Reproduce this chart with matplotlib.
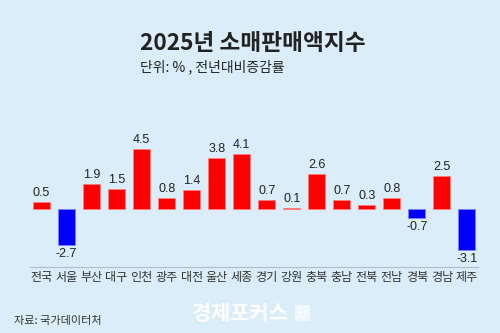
import matplotlib.pyplot as plt
import numpy as np

plt.rcParams['font.family'] = ['Noto Sans CJK KR', 'DejaVu Sans']

# 2025 retail sales index, YoY change (%)
regions = ["전국", "서울", "부산", "대구", "인천", "광주", "대전", "울산", "세종",
           "경기", "강원", "충북", "충남", "전북", "전남", "경북", "경남", "제주"]
values = [0.5, -2.7, 1.9, 1.5, 4.5, 0.8, 1.4, 3.8, 4.1,
          0.7, 0.1, 2.6, 0.7, 0.3, 0.8, -0.7, 2.5, -3.1]

bg = "#daedf8"
fig = plt.figure(figsize=(5, 3.33), dpi=100, facecolor=bg)
ax = fig.add_axes([0.06, 0.198, 0.896, 0.472])
ax.set_facecolor(bg)

x = np.arange(len(regions))
colors = ["#ff0000" if v >= 0 else "#0000ff" for v in values]
edges = ["#ff8080" if v >= 0 else "#8080ff" for v in values]
ax.bar(x, values, width=0.68, color=colors, edgecolor=edges, linewidth=0.6)

# value labels above / below each bar
for xi, v in zip(x, values):
    if v >= 0:
        ax.text(xi, v + 0.22, f"{v:.1f}", ha="center", va="bottom", fontsize=9,
                color="#222222", family=["Liberation Sans", "DejaVu Sans"])
    else:
        ax.text(xi, v - 0.22, f"{v:.1f}", ha="center", va="top", fontsize=9,
                color="#222222", family=["Liberation Sans", "DejaVu Sans"])

ax.set_xlim(-0.46, len(regions) - 0.56)
ax.set_ylim(-4.36, 7.44)
ax.set_xticks(x)
ax.set_xticklabels(regions, fontsize=8.7, color="#333333")
ax.tick_params(axis="x", length=0, pad=3)
ax.set_yticks([])
for s in ["top", "left", "right"]:
    ax.spines[s].set_visible(False)
ax.spines["bottom"].set_color("#b4bcc4")
ax.spines["bottom"].set_linewidth(0.8)

fig.text(0.28, 0.87, "2025년 소매판매액지수", fontsize=16.3, fontweight="bold",
         color="#222222", va="center", ha="left")
fig.text(0.28, 0.80, "단위: % , 전년대비증감률", fontsize=10, color="#222222",
         va="center", ha="left")
fig.text(0.028, 0.035, "자료: 국가데이터처", fontsize=8, color="#333333",
         va="center", ha="left")
fig.text(0.384, 0.06, "경제포커스", fontsize=15, fontweight="bold", color="white",
         va="center", ha="left")
fig.text(0.594, 0.06, "Ei", fontsize=9, color="white", va="center", ha="left",
         bbox=dict(boxstyle="square,pad=0.15", fc="white", ec="none", alpha=0.6))

fig.savefig("out.png", dpi=100, facecolor=bg)
